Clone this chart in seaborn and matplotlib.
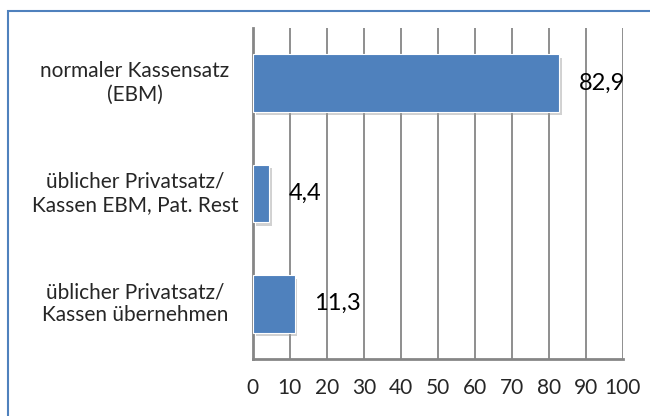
import matplotlib
matplotlib.use("Agg")
import pandas as pd
import seaborn as sns
from matplotlib import pyplot as plt
from matplotlib import patheffects as pe
from matplotlib.patches import Rectangle

# Daten
kategorien = ["normaler Kassensatz\n(EBM)",
              "üblicher Privatsatz/\nKassen EBM, Pat. Rest",
              "üblicher Privatsatz/\nKassen übernehmen"]
werte = [82.9, 4.4, 11.3]
werte_text = ["82,9", "4,4", "11,3"]
x_ticks = [0, 10, 20, 30, 40, 50, 60, 70, 80, 90, 100]

df = pd.DataFrame({"Kategorie": kategorien, "Wert": werte})

sns.set_style("white")
plt.rcParams["font.family"] = ["Lato", "DejaVu Sans"]

fig = plt.figure(figsize=(6.5, 4.16), dpi=100)
ax = fig.add_axes([0.389, 0.137, 0.569, 0.796])

sns.barplot(data=df, x="Wert", y="Kategorie", orient="h", color="#4F81BD",
            saturation=1, width=0.52, edgecolor="white", linewidth=0.8, ax=ax)

# Schatten unter den Balken
for bar in ax.patches:
    bar.set_path_effects([pe.SimplePatchShadow(offset=(2, -2.5), shadow_rgbFace="#9a9a9a", alpha=0.45),
                          pe.Normal()])
    bar.set_zorder(3)

# Werte neben den Balken
for i, (v, t) in enumerate(zip(werte, werte_text)):
    ax.annotate(t, xy=(v, i), xytext=(14, 0), textcoords="offset points",
                ha="left", va="center", fontsize=17, color="black", zorder=5)

ax.set_xlim(0, 100)
ax.set_ylim(2.5, -0.5)
ax.set_xticks(x_ticks)
ax.set_xticklabels([str(t) for t in x_ticks], fontsize=15)
ax.tick_params(axis="x", length=6, width=1.5, color="#868686", direction="out", pad=8)

# Kategorien als Text, zentriert links vom Diagramm
ax.set_yticks(range(len(kategorien)))
ax.tick_params(axis="y", length=0)
ax.set_yticklabels([])
ax.set_yticks([-0.5, 0.5, 1.5, 2.5], minor=True)
ax.tick_params(axis="y", which="minor", length=6, width=1.5, color="#868686", direction="out")
lab_tr = ax.get_yaxis_transform()
for i, k in enumerate(kategorien):
    ax.text(-0.319, i, k, transform=lab_tr, ha="center", va="center", multialignment="center",
            fontsize=15, linespacing=1.2, clip_on=False)

ax.set_xlabel("")
ax.set_ylabel("")

ax.grid(axis="x", color="#868686", linewidth=1.3, zorder=0)
ax.set_axisbelow(True)
for s in ["top", "right"]:
    ax.spines[s].set_visible(False)
for s in ["left", "bottom"]:
    ax.spines[s].set_color("#868686")
    ax.spines[s].set_linewidth(2)

# Rahmen um das Diagramm
fig.patches.append(Rectangle((8 / 650, -0.1), 1.2, 1 - 11 / 416 + 0.1, transform=fig.transFigure,
                             fill=False, edgecolor="#4F81BD", linewidth=1.5))

fig.savefig("out.png", dpi=100)
